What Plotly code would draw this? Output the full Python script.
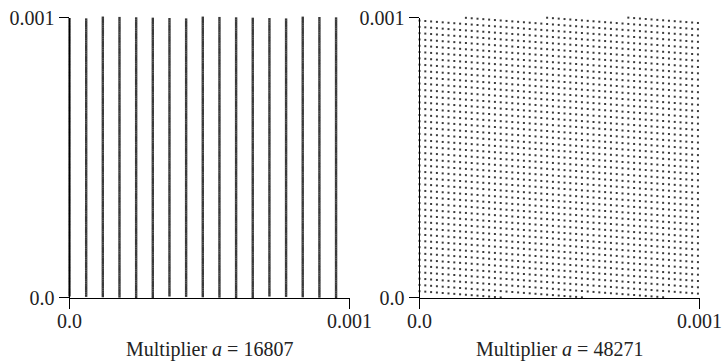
import numpy as np
import plotly.graph_objects as go

# Lehmer (Park–Miller) generator parameters shown in the two panels
MULTIPLIERS = [16807, 48271]
MODULUS = 2147483647
WINDOW = 0.001  # zoomed region [0, WINDOW]^2 of successive pairs (u_i, u_{i+1})
PANEL_TITLES = ["Multiplier <i>a</i> = 16807", "Multiplier <i>a</i> = 48271"]
TICK_VALS = [0.0, 0.001]
TICK_TEXT = ["0.0", "0.001"]


def lattice_pairs(a, m, w):
    n = np.arange(1, int(w * m) + 1, dtype=np.int64)
    x = n / m
    y = ((a * n) % m) / m
    keep = y <= w
    return x[keep], y[keep]


fig = go.Figure()
W, H = 722, 362
def fx(px):
    return px / W
def fy(py):
    return (H - py) / H

x_domains = [[fx(69.5), fx(349.5)], [fx(419.5), fx(699.5)]]
y_domain = [fy(297.5), fy(17.5)]
FONT = "Liberation Serif"
FS = 20
MARKER_SIZES = [2.4, 2]

for i, a in enumerate(MULTIPLIERS):
    px, py = lattice_pairs(a, MODULUS, WINDOW)
    sfx = "" if i == 0 else str(i + 1)
    fig.add_trace(go.Scatter(
        x=px, y=py, mode="markers",
        marker=dict(symbol="square", size=MARKER_SIZES[i], color="#3a3a3a",
                    line=dict(width=0)),
        xaxis="x" + sfx, yaxis="y" + sfx, cliponaxis=False, showlegend=False,
        hoverinfo="skip",
    ))
    axis_common = dict(
        range=[0, WINDOW], tickvals=TICK_VALS, ticktext=TICK_TEXT,
        showline=True, linecolor="black", linewidth=1,
        ticks="outside", ticklen=10, tickcolor="black", tickwidth=1,
        showgrid=False, zeroline=False, automargin=False,
        ticklabeloverflow="allow",
        tickfont=dict(family=FONT, size=FS, color="#222222"),
    )
    fig.layout["xaxis" + sfx] = dict(axis_common, domain=x_domains[i],
                                     anchor="y" + sfx, ticklabelstandoff=-5)
    fig.layout["yaxis" + sfx] = dict(axis_common, domain=y_domain,
                                     anchor="x" + sfx)
    fig.add_annotation(
        text=PANEL_TITLES[i], xref="paper", yref="paper",
        x=(x_domains[i][0] + x_domains[i][1]) / 2, y=fy(349),
        xanchor="center", yanchor="middle", showarrow=False,
        font=dict(family=FONT, size=FS, color="#222222"),
    )

fig.update_layout(
    width=W, height=H, margin=dict(l=0, r=0, t=0, b=0),
    paper_bgcolor="white", plot_bgcolor="white",
)
fig.write_html(
    "out.html",
    config={"displayModeBar": False, "staticPlot": True},
    post_script="document.body.style.margin='0';document.body.style.overflow='hidden';",
)
